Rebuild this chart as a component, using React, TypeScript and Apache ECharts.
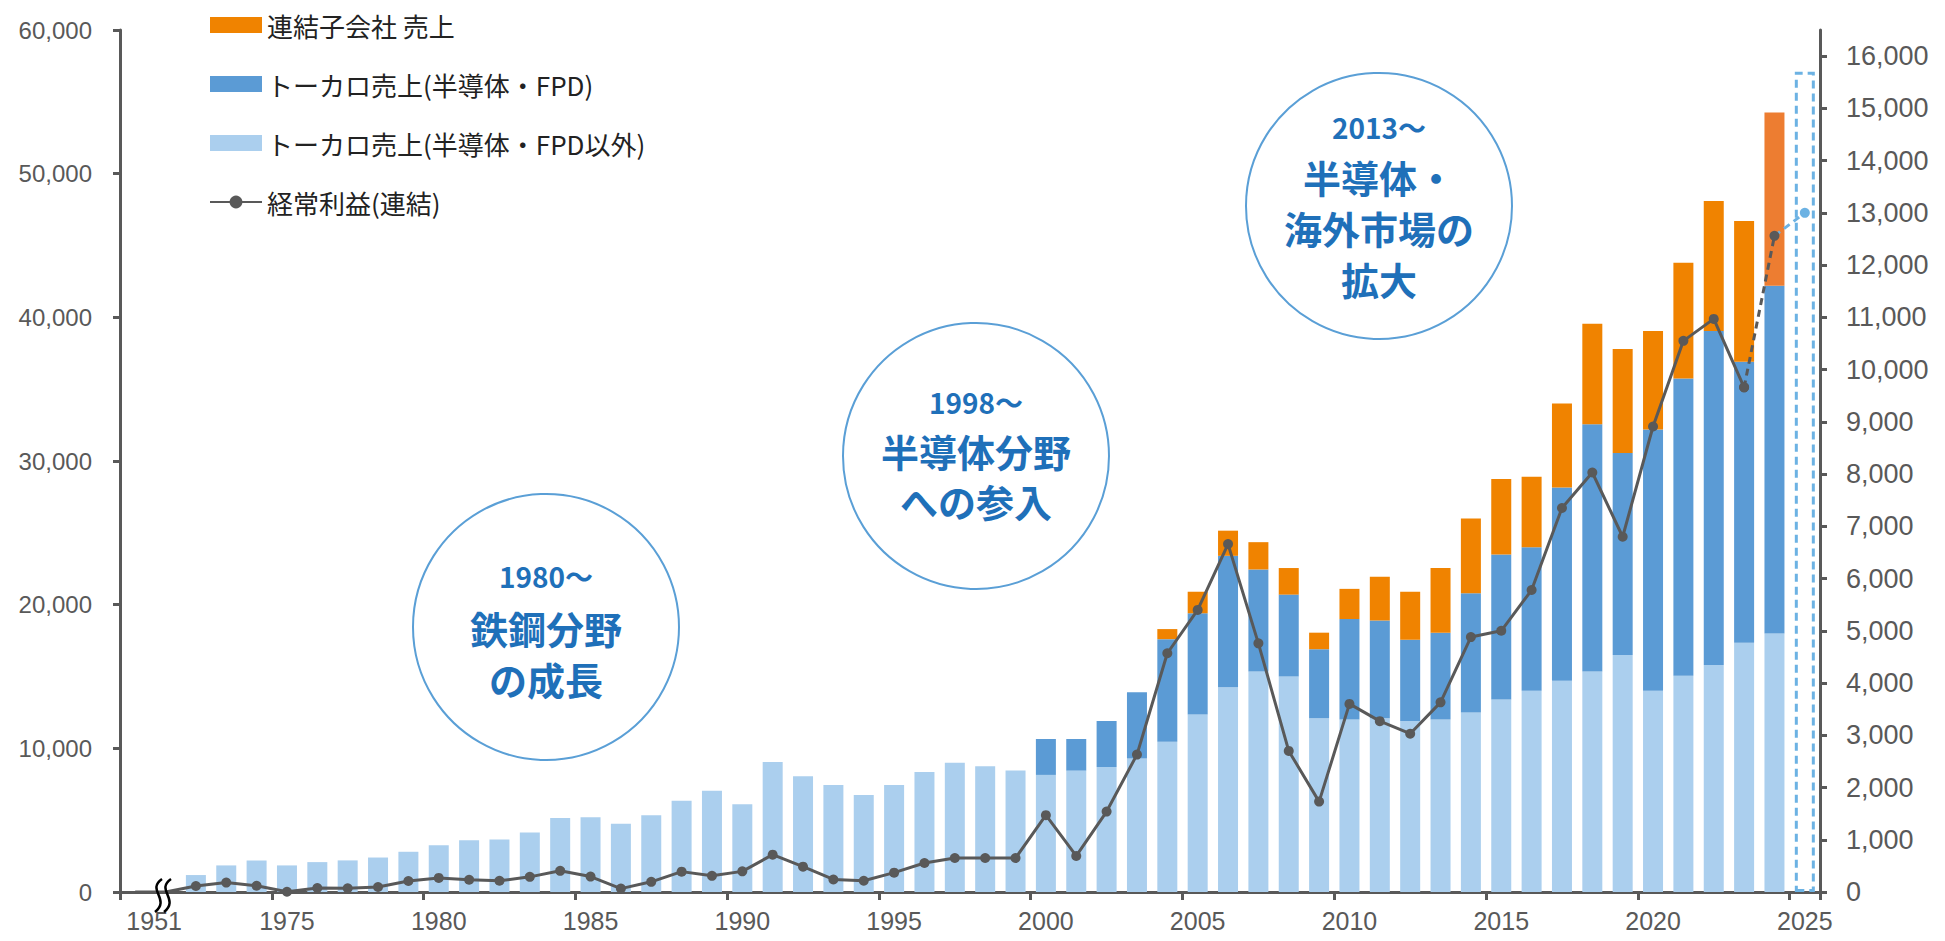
import React, { useEffect, useRef } from 'react';
import * as echarts from 'echarts';

// Category axis: founding year, then 1971..2025
const CATEGORIES: string[] = [
  '1951', '1971', '1972', '1973', '1974', '1975', '1976', '1977', '1978', '1979',
  '1980', '1981', '1982', '1983', '1984', '1985', '1986', '1987', '1988', '1989',
  '1990', '1991', '1992', '1993', '1994', '1995', '1996', '1997', '1998', '1999',
  '2000', '2001', '2002', '2003', '2004', '2005', '2006', '2007', '2008', '2009',
  '2010', '2011', '2012', '2013', '2014', '2015', '2016', '2017', '2018', '2019',
  '2020', '2021', '2022', '2023', '2024', '2025',
];

// トーカロ売上(半導体・FPD以外) 1972..2024
const OTHER_SALES_START = '1972';
const OTHER_SALES: number[] = [
  1180, 1850, 2200, 1850, 2080, 2200, 2400, 2800, 3250, 3600,
  3650, 4150, 5150, 5200, 4750, 5350, 6350, 7050, 6100, 9050,
  8050, 7450, 6750, 7450, 8350, 9000, 8750, 8450, 8150, 8450,
  8700, 9300, 10450, 12350, 14250, 15350, 15000, 12100, 12000, 12100,
  11900, 12000, 12500, 13400, 14000, 14700, 15350, 16500, 14000, 15050,
  15800, 17350, 18000,
];

// トーカロ売上(半導体・FPD) 2000..2024
const SEMI_SALES_START = '2000';
const SEMI_SALES: number[] = [
  2500, 2200, 3200, 4600, 7150, 7050, 9150, 7100, 5700, 4800,
  7000, 6800, 5650, 6050, 8300, 10100, 10000, 13450, 17200, 14050,
  18200, 20700, 23250, 19550, 24200,
];

// 連結子会社 売上 2004..2024
const SUB_SALES_START = '2004';
const SUB_SALES: number[] = [
  700, 1500, 1750, 1900, 1850, 1150, 2100, 3050, 3350, 4500,
  5200, 5250, 4900, 5850, 7000, 7250, 6850, 8050, 9050, 9800,
  12050,
];

// 2025 forecast total sales
const FORECAST_YEAR = '2025';
const FORECAST_SALES = 57100;

// 経常利益(連結) 1951, 1971..2025 (2025 = forecast)
const PROFIT: number[] = [
  0, 0, 115, 180, 120, 5, 75, 70, 95, 210,
  270, 235, 215, 290, 405, 295, 65, 195, 390, 310,
  395, 715, 485, 240, 215, 370, 555, 650, 650, 650,
  1470, 690, 1540, 2630, 4570, 5400, 6660, 4760, 2700, 1730,
  3600, 3270, 3030, 3630, 4880, 5000, 5780, 7350, 8030, 6800,
  8910, 10550, 10970, 9660, 12560, 13000,
];

const LEFT_TICKS = [0, 10000, 20000, 30000, 40000, 50000, 60000];
const RIGHT_TICKS = [
  0, 1000, 2000, 3000, 4000, 5000, 6000, 7000, 8000, 9000,
  10000, 11000, 12000, 13000, 14000, 15000, 16000,
];

const NAME_SUB = '連結子会社 売上';
const NAME_SEMI = 'トーカロ売上(半導体・FPD)';
const NAME_OTHER = 'トーカロ売上(半導体・FPD以外)';
const NAME_PROFIT = '経常利益(連結)';

function padFrom(start: string, values: number[]): (number | null)[] {
  const out: (number | null)[] = CATEGORIES.map(() => null);
  const s = CATEGORIES.indexOf(start);
  values.forEach((v, i) => { out[s + i] = v; });
  return out;
}

const AXIS_COLOR = '#595959';
const LABEL_FONT = '"Liberation Sans", Arial, sans-serif';
const CJK_FONT = '"Noto Sans CJK JP", sans-serif';
const CIRCLE_TEXT = '#1f70b9';
const CIRCLE_STROKE = '#5a9fd6';

function circleGroup(cx: number, cy: number, lines: { t: string; y: number; size: number }[]) {
  const els: any[] = [
    {
      type: 'circle',
      shape: { cx, cy, r: 133 },
      style: { fill: '#ffffff', stroke: CIRCLE_STROKE, lineWidth: 2 },
      z: 5,
    },
  ];
  lines.forEach((l) => {
    els.push({
      type: 'text',
      x: cx,
      y: l.y,
      z: 6,
      style: {
        text: l.t,
        fill: CIRCLE_TEXT,
        font: `bold ${l.size}px ${CJK_FONT}`,
        lineHeight: l.size,
        align: 'center',
        verticalAlign: 'middle',
        textAlign: 'center',
        textVerticalAlign: 'middle',
      },
    });
  });
  return els;
}

export default function App() {
  const ref = useRef<HTMLDivElement>(null);

  useEffect(() => {
    if (!ref.current) return;
    const chart = echarts.init(ref.current, undefined, { renderer: 'svg' });

    const other = padFrom(OTHER_SALES_START, OTHER_SALES);
    const semi = padFrom(SEMI_SALES_START, SEMI_SALES);
    const sub: any[] = padFrom(SUB_SALES_START, SUB_SALES);
    const lastSubIdx = CATEGORIES.indexOf('2024');
    sub[lastSubIdx] = { value: sub[lastSubIdx], itemStyle: { color: '#ed7d31' } };
    const forecast: (number | null)[] = CATEGORIES.map((c) => (c === FORECAST_YEAR ? FORECAST_SALES : null));

    const i2023 = CATEGORIES.indexOf('2023');
    const i2024 = CATEGORIES.indexOf('2024');
    const i2025 = CATEGORIES.indexOf('2025');

    const profitActual: any[] = PROFIT.map((v, i) => {
      if (i > i2023) return null;
      if (i < 2) return { value: v, symbol: 'none' };
      return v;
    });
    const profitDash: any[] = PROFIT.map((v, i) => (i === i2023 || i === i2024 ? v : null));
    const profitForecast: any[] = PROFIT.map((v, i) => {
      if (i === i2024) return { value: v, symbol: 'none' };
      if (i === i2025) return v;
      return null;
    });

    const option: any = {
      animation: false,
      backgroundColor: '#ffffff',
      grid: { left: 120, right: 125, top: 30, bottom: 49, containLabel: false },
      legend: {
        orient: 'vertical',
        left: 209,
        top: 12,
        padding: 0,
        itemWidth: 52,
        itemHeight: 16,
        itemGap: 33,
        selectedMode: false,
        textStyle: { fontSize: 26, lineHeight: 26, color: '#222222', fontFamily: CJK_FONT },
        data: [
          { name: NAME_SUB, icon: 'rect' },
          { name: NAME_SEMI, icon: 'rect' },
          { name: NAME_OTHER, icon: 'rect' },
          { name: NAME_PROFIT },
        ],
      },
      xAxis: {
        type: 'category',
        data: CATEGORIES,
        boundaryGap: true,
        axisLine: { lineStyle: { color: AXIS_COLOR, width: 3 } },
        axisTick: { show: true, interval: 4, length: 8, lineStyle: { color: AXIS_COLOR, width: 3 } },
        axisLabel: {
          interval: 4,
          fontSize: 25,
          color: AXIS_COLOR,
          fontFamily: LABEL_FONT,
          margin: 16,
          formatter: (v: string) => (v === '1951' ? '{a|1951}' : v),
          rich: {
            a: { fontSize: 25, color: AXIS_COLOR, fontFamily: LABEL_FONT, padding: [0, 0, 0, 38] },
          },
        },
        splitLine: { show: false },
      },
      yAxis: [
        {
          type: 'value',
          position: 'left',
          min: 0,
          max: 60000,
          interval: 10000,
          axisLine: { show: true, lineStyle: { color: AXIS_COLOR, width: 3 } },
          axisTick: { show: true, length: 7, lineStyle: { color: AXIS_COLOR, width: 3 }, customValues: LEFT_TICKS },
          axisLabel: {
            fontSize: 24,
            color: AXIS_COLOR,
            fontFamily: LABEL_FONT,
            margin: 28,
            customValues: LEFT_TICKS,
            formatter: (v: number) => v.toLocaleString('en-US'),
          },
          splitLine: { show: false },
        },
        {
          type: 'value',
          position: 'right',
          min: 0,
          max: 16500,
          interval: 1000,
          axisLine: { show: true, lineStyle: { color: AXIS_COLOR, width: 3 } },
          axisTick: { show: true, length: 7, lineStyle: { color: AXIS_COLOR, width: 3 }, customValues: RIGHT_TICKS },
          axisLabel: {
            fontSize: 27,
            color: AXIS_COLOR,
            fontFamily: LABEL_FONT,
            margin: 26,
            customValues: RIGHT_TICKS,
            formatter: (v: number) => (v > 16000 ? '' : v.toLocaleString('en-US')),
          },
          splitLine: { show: false },
        },
      ],
      series: [
        {
          name: NAME_OTHER,
          type: 'bar',
          stack: 'sales',
          barWidth: 20,
          itemStyle: { color: '#abcfee' },
          data: other,
        },
        {
          name: NAME_SEMI,
          type: 'bar',
          stack: 'sales',
          barWidth: 20,
          itemStyle: { color: '#5b9bd5' },
          data: semi,
        },
        {
          name: NAME_SUB,
          type: 'bar',
          stack: 'sales',
          barWidth: 20,
          itemStyle: { color: '#f08300' },
          data: sub,
        },
        {
          name: '2025予想',
          type: 'bar',
          stack: 'sales',
          barWidth: 20,
          itemStyle: {
            color: 'rgba(255,255,255,0)',
            borderColor: '#6cb2e3',
            borderWidth: 3,
            borderType: [8, 5],
          },
          data: forecast,
        },
        {
          name: NAME_PROFIT,
          type: 'line',
          yAxisIndex: 1,
          symbol: 'circle',
          symbolSize: 10,
          itemStyle: { color: '#595959' },
          lineStyle: { color: '#595959', width: 3 },
          data: profitActual,
          z: 5,
        },
        {
          name: '経常利益(連結)見込',
          type: 'line',
          yAxisIndex: 1,
          symbol: 'circle',
          symbolSize: 10,
          itemStyle: { color: '#595959' },
          lineStyle: { color: '#595959', width: 3, type: [7, 5] },
          data: profitDash,
          z: 5,
        },
        {
          name: '経常利益(連結)予想',
          type: 'line',
          yAxisIndex: 1,
          symbol: 'circle',
          symbolSize: 10,
          itemStyle: { color: '#6cb2e3' },
          lineStyle: { color: '#6cb2e3', width: 3, type: [7, 5] },
          data: profitForecast,
          z: 5,
        },
      ],
      graphic: [
        ...circleGroup(546, 627, [
          { t: '1980～', y: 576, size: 28 },
          { t: '鉄鋼分野', y: 627, size: 38 },
          { t: 'の成長', y: 678, size: 38 },
        ]),
        ...circleGroup(976, 456, [
          { t: '1998～', y: 402, size: 28 },
          { t: '半導体分野', y: 450, size: 38 },
          { t: 'への参入', y: 500, size: 38 },
        ]),
        ...circleGroup(1379, 206, [
          { t: '2013～', y: 127, size: 28 },
          { t: '半導体・', y: 176, size: 38 },
          { t: '海外市場の', y: 227, size: 38 },
          { t: '拡大', y: 278, size: 38 },
        ]),
        {
          type: 'bezierCurve',
          z: 100,
          shape: { x1: 162, y1: 879, x2: 155, y2: 912, cpx1: 146, cpy1: 890, cpx2: 171, cpy2: 899 },
          style: { stroke: '#000000', lineWidth: 2.5, fill: null },
        },
        {
          type: 'bezierCurve',
          z: 100,
          shape: { x1: 171, y1: 879, x2: 164, y2: 912, cpx1: 155, cpy1: 890, cpx2: 180, cpy2: 899 },
          style: { stroke: '#000000', lineWidth: 2.5, fill: null },
        },
      ],
    };

    chart.setOption(option);
    return () => chart.dispose();
  }, []);

  return (
    <div
      ref={ref}
      style={{ position: 'fixed', left: 0, top: 0, width: 1945, height: 941, background: '#fff' }}
    />
  );
}
